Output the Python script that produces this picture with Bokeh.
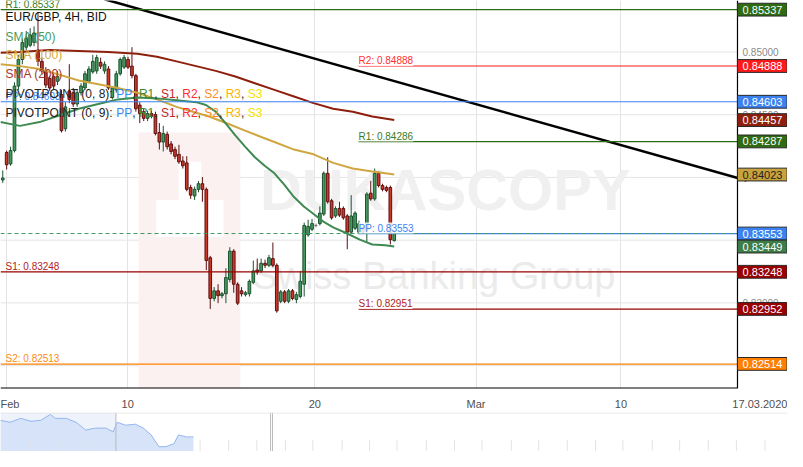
from bokeh.plotting import figure
from bokeh.models import Range1d, FixedTicker, Label, ColumnDataSource
from bokeh.layouts import column
from bokeh.embed import file_html
from bokeh.resources import INLINE
from bokeh.core.properties import value

# ---------------- data ----------------
opens = [0.83980, 0.84199, 0.84108, 0.84214, 0.84728, 0.84940, 0.85038, 0.85053, 0.85076, 0.85015,
         0.84925, 0.84849, 0.84789, 0.84804, 0.84766, 0.84660, 0.84388, 0.84690, 0.84675, 0.84585,
         0.84675, 0.84713, 0.84766, 0.84841, 0.84849, 0.84917, 0.84849, 0.84864, 0.84637, 0.84698,
         0.84826, 0.84879, 0.84940, 0.84887, 0.84811, 0.84577, 0.84524, 0.84471, 0.84509, 0.84501,
         0.84358, 0.84282, 0.84343, 0.84267, 0.84222, 0.84184, 0.84131, 0.84116, 0.83920, 0.83852,
         0.83905, 0.83950, 0.83905, 0.83360, 0.83036, 0.83096, 0.83058, 0.83073, 0.83187, 0.83413,
         0.83149, 0.83096, 0.83066, 0.83073, 0.83164, 0.83262, 0.83255, 0.83315, 0.83300, 0.83353,
         0.83300, 0.83013, 0.83088, 0.83013, 0.83096, 0.83028, 0.83051, 0.83149, 0.83542, 0.83587,
         0.83617, 0.83632, 0.83708, 0.84033, 0.83814, 0.83693, 0.83753, 0.83753, 0.83693, 0.83564,
         0.83595, 0.83564, 0.83602, 0.83580, 0.83874, 0.83829, 0.84033, 0.83935, 0.83920, 0.83920,
         0.83496]
closes = [0.83995, 0.84101, 0.84214, 0.84728, 0.84940, 0.85076, 0.85106, 0.85136, 0.85151, 0.84925,
          0.84849, 0.84736, 0.84713, 0.84728, 0.84804, 0.84373, 0.84562, 0.84622, 0.84585, 0.84675,
          0.84728, 0.84826, 0.84864, 0.84925, 0.84955, 0.84887, 0.84902, 0.84713, 0.84713, 0.84826,
          0.84940, 0.84955, 0.84879, 0.84811, 0.84547, 0.84509, 0.84471, 0.84509, 0.84494, 0.84350,
          0.84282, 0.84350, 0.84245, 0.84207, 0.84169, 0.84124, 0.84093, 0.83905, 0.83859, 0.83905,
          0.83950, 0.83905, 0.83338, 0.83036, 0.83096, 0.83058, 0.83073, 0.83202, 0.83413, 0.83149,
          0.82998, 0.83073, 0.83081, 0.83172, 0.83255, 0.83247, 0.83315, 0.83300, 0.83360, 0.83300,
          0.82937, 0.83088, 0.83013, 0.83096, 0.83036, 0.83066, 0.83172, 0.83617, 0.83610, 0.83632,
          0.83617, 0.83716, 0.84033, 0.83806, 0.83678, 0.83753, 0.83700, 0.83678, 0.83564, 0.83693,
          0.83716, 0.83632, 0.83564, 0.83867, 0.83829, 0.84033, 0.83935, 0.83905, 0.83897, 0.83504,
          0.83553]
highs = [0.84056, 0.84214, 0.84245, 0.84758, 0.84977, 0.85106, 0.85166, 0.85189, 0.85204, 0.85317,
         0.84955, 0.84879, 0.84811, 0.84826, 0.84849, 0.84698, 0.84600, 0.84902, 0.84713, 0.84698,
         0.84751, 0.84849, 0.84887, 0.84977, 0.84977, 0.84955, 0.84925, 0.84887, 0.84728, 0.84849,
         0.84955, 0.84977, 0.84962, 0.85038, 0.84826, 0.84600, 0.84547, 0.84532, 0.84532, 0.84524,
         0.84433, 0.84411, 0.84365, 0.84290, 0.84245, 0.84260, 0.84169, 0.84169, 0.83942, 0.83927,
         0.83972, 0.84003, 0.83920, 0.83375, 0.83126, 0.83149, 0.83088, 0.83277, 0.83444, 0.83428,
         0.83164, 0.83126, 0.83096, 0.83187, 0.83338, 0.83353, 0.83353, 0.83345, 0.83383, 0.83481,
         0.83315, 0.83103, 0.83103, 0.83111, 0.83111, 0.83088, 0.83255, 0.83640, 0.83663, 0.83670,
         0.83632, 0.83769, 0.84048, 0.84161, 0.83829, 0.83769, 0.83806, 0.83769, 0.83708, 0.83859,
         0.83731, 0.83655, 0.83617, 0.83882, 0.83972, 0.84071, 0.84048, 0.83950, 0.83935, 0.83935,
         0.83580]
lows = [0.83957, 0.84063, 0.84093, 0.84199, 0.84698, 0.84902, 0.85015, 0.85038, 0.85045, 0.84887,
        0.84826, 0.84713, 0.84690, 0.84698, 0.84736, 0.84358, 0.84365, 0.84592, 0.84562, 0.84562,
        0.84653, 0.84698, 0.84751, 0.84826, 0.84826, 0.84864, 0.84826, 0.84698, 0.84622, 0.84675,
        0.84811, 0.84864, 0.84864, 0.84789, 0.84524, 0.84433, 0.84449, 0.84449, 0.84471, 0.84335,
        0.84222, 0.84207, 0.84222, 0.84184, 0.84146, 0.84108, 0.84071, 0.83889, 0.83829, 0.83821,
        0.83882, 0.83806, 0.83262, 0.82952, 0.83013, 0.82998, 0.83036, 0.82998, 0.83164, 0.83081,
        0.82983, 0.83051, 0.83051, 0.83051, 0.83149, 0.83224, 0.83240, 0.83277, 0.83285, 0.83285,
        0.82922, 0.82998, 0.82998, 0.82998, 0.83021, 0.82998, 0.83036, 0.83051, 0.83527, 0.83572,
        0.83602, 0.83617, 0.83693, 0.83791, 0.83663, 0.83678, 0.83685, 0.83663, 0.83428, 0.83549,
        0.83580, 0.83549, 0.83549, 0.83481, 0.83814, 0.83814, 0.83920, 0.83889, 0.83882, 0.83466,
        0.83489]
bars = list(range(len(opens)))

sma50_x = [-0.6, 4.4, 9.4, 14.4, 19.4, 24.4, 29.4, 34.4, 39.4, 44.4, 49.4, 51.9, 54.4, 56.9, 59.4,
           61.9, 64.4, 66.9, 69.4, 71.9, 74.4, 76.9, 79.4, 81.9, 84.4, 87.7, 91.2, 94.4, 97.7, 100.0]
sma50_y = [0.84441, 0.84411, 0.84441, 0.84494, 0.84547, 0.84585, 0.84622, 0.84637, 0.84630, 0.84615,
           0.84600, 0.84577, 0.84524, 0.84433, 0.84335, 0.84245, 0.84161, 0.84093, 0.84033, 0.83942,
           0.83844, 0.83769, 0.83708, 0.83648, 0.83602, 0.83557, 0.83504, 0.83466, 0.83459, 0.83449]
sma100_x = [-0.6, 4.4, 9.4, 14.4, 19.4, 24.4, 29.4, 34.4, 39.4, 44.4, 49.4, 52.7, 57.7, 61.9, 66.2,
            69.4, 74.4, 79.4, 84.4, 89.4, 94.4, 100.0]
sma100_y = [0.84902, 0.84887, 0.84864, 0.84819, 0.84773, 0.84743, 0.84713, 0.84675, 0.84622, 0.84562,
            0.84516, 0.84486, 0.84426, 0.84373, 0.84320, 0.84282, 0.84222, 0.84184, 0.84116, 0.84071,
            0.84048, 0.84023]
sma200_x = [-0.6, 4.4, 11.9, 19.4, 26.9, 34.4, 39.4, 44.4, 49.4, 54.4, 59.4, 64.4, 69.4, 74.4, 79.4,
            84.4, 89.4, 94.4, 100.0]
sma200_y = [0.84993, 0.85000, 0.85015, 0.85008, 0.85000, 0.84985, 0.84962, 0.84925, 0.84887, 0.84849,
            0.84804, 0.84751, 0.84698, 0.84645, 0.84592, 0.84547, 0.84524, 0.84486, 0.84457]

trend_x = [26.0, 190.0]
trend_y = [0.85420, 0.83975]

pivot_names = ["R1", "R2", "PP", "R1", "PP", "S1", "S1", "S2"]
pivot_levels = [0.85337, 0.84888, 0.84603, 0.84286, 0.83553, 0.83248, 0.82951, 0.82513]
pivot_set = [0, 1, 0, 1, 1, 0, 1, 0]          # 0 -> PIVOTPOINT (0, 8), 1 -> (0, 9)
second_set_start = 90.9
last_price = 0.83553

box_values = [0.85337, 0.84888, 0.84603, 0.84457, 0.84287, 0.84023, 0.83553, 0.83449, 0.83248, 0.82952, 0.82514]
y_ticks = [0.825, 0.830, 0.835, 0.840, 0.845, 0.850]
x_tick_pos = [0.9, 31.9, 79.7, 120.9, 157.9]
x_tick_labels = ["Feb", "10", "20", "Mar", "10"]
date_tick_pos = 193.4
date_label = "17.03.2020"

nav_x = [-0.6, 1.9, 4.6, 7.2, 9.7, 12.2, 13.4, 16.2, 18.7, 21.2, 23.7, 26.4, 28.2, 29.2, 31.4, 33.9,
         35.9, 37.9, 39.9, 41.7, 43.7, 44.9, 46.9, 48.2, 48.7]
nav_y = [32, 30, 34, 31, 32, 38, 34, 34, 30, 22, 24, 24, 20, 30, 27, 28, 24, 17, 5, 5, 8, 17, 15, 15, 15]
nav_ticks = [7.2, 14.4, 21.7, 50.4, 57.7, 64.9, 72.2, 79.2, 86.7, 93.7, 100.7, 108.2, 115.4, 122.4,
             129.9, 136.9, 144.2, 151.4, 158.4, 165.9, 172.9, 180.2, 187.4, 194.7]
nav_window = [28.9, 68.4]

# ---------------- styles ----------------
FONT = "Liberation Sans"
C_UP, C_UP_LINE = "#479a5f", "#1d5230"
C_DN, C_DN_LINE = "#c9392a", "#5e0f0f"
C_SMA50, C_SMA100, C_SMA200 = "#3f8a52", "#cfa640", "#8e1f0c"
C_R1, C_R2, C_PP, C_S1, C_S2 = "#2e6b12", "#ff1a1a", "#3b82f0", "#990000", "#ff8000"
pivot_color = {"R1": C_R1, "R2": C_R2, "PP": C_PP, "S1": C_S1, "S2": C_S2}
label_color = {"R1": "#3c7a24", "R2": "#ff3030", "PP": "#3b82f0", "S1": "#b02424", "S2": "#ff8a10"}
box_fill = [C_R1, C_R2, C_PP, C_SMA200, C_R1, "#c9a23c", C_PP, "#3d7d47", C_S1, C_S1, C_S2]
box_text = ["white"] * 5 + ["#222222"] + ["white"] * 5

X0, X1, XR = -0.575, 187.675, 200.45     # chart area ends at X1, price scale up to XR
Y0, Y1 = 0.82318, 0.85410
BOX_H = 0.00102

p = figure(width=787, height=412, output_backend="svg", toolbar_location=None,
           x_range=Range1d(X0, XR), y_range=Range1d(Y0, Y1), y_axis_location=None,
           min_border_left=0, min_border_top=0, min_border_right=0, min_border_bottom=19)
p.outline_line_color = None
p.background_fill_color = "white"

p.xaxis.ticker = FixedTicker(ticks=x_tick_pos + [date_tick_pos])
overrides = {t: l for t, l in zip(x_tick_pos, x_tick_labels)}
overrides[date_tick_pos] = date_label
p.xaxis.major_label_overrides = overrides
p.xaxis.axis_line_color = None
p.xaxis.major_tick_line_color = None
p.xaxis.minor_tick_line_color = None
p.xaxis.major_label_text_color = "#505050"
p.xaxis.major_label_text_font = FONT
p.xaxis.major_label_text_font_size = "11px"
p.xaxis.major_label_standoff = 3
p.xgrid.ticker = FixedTicker(ticks=x_tick_pos)
p.xgrid.grid_line_color = "#e4e4e4"
p.ygrid.grid_line_color = None
p.segment(x0=[X0] * len(y_ticks), x1=[X1] * len(y_ticks), y0=y_ticks, y1=y_ticks,
          line_color="#e4e4e4", line_width=1)

# watermark
p.quad(left=[34.7], right=[60.7], top=[0.84358], bottom=[0.8220], fill_color="#fcf1f1", line_color=None)
p.quad(left=[44.9, 39.2], right=[50.7, 56.4], top=[0.84124, 0.83821], bottom=[0.83806, 0.83527],
       fill_color="white", line_color=None)
p.text(x=[65.7], y=[0.83904], text=["DUKASCOPY"], text_font=value(FONT),
       text_font_style="bold", text_font_size="58px", text_color="#f0f0f0", text_baseline="middle")
p.text(x=[63.7], y=[0.83217], text=["Swiss Banking Group"], text_font=value(FONT),
       text_font_size="38px", text_color="#ebebeb", text_baseline="middle")

# candles
fills, lines = [], []
for o, c in zip(opens, closes):
    if c > o:
        fills.append(C_UP); lines.append(C_UP_LINE)
    elif c < o:
        fills.append(C_DN); lines.append(C_DN_LINE)
    else:
        fills.append("#999999"); lines.append("#777777")
src = ColumnDataSource(dict(x=bars, h=highs, l=lows,
                            top=[max(o, c) for o, c in zip(opens, closes)],
                            bot=[min(o, c) for o, c in zip(opens, closes)],
                            fill=fills, line=lines))
p.segment(x0="x", x1="x", y0="h", y1="l", line_color="line", line_width=1, source=src)
p.vbar(x="x", width=0.68, top="top", bottom="bot", fill_color="fill", line_color="line",
       line_width=1, source=src)

# moving averages
p.line(sma100_x, sma100_y, line_color=C_SMA100, line_width=2)
p.line(sma200_x, sma200_y, line_color=C_SMA200, line_width=2)
p.line(sma50_x, sma50_y, line_color=C_SMA50, line_width=2)

# trend line
p.line(trend_x, trend_y, line_color="black", line_width=2.5)

# pivot lines
starts = [X0 if s == 0 else second_set_start for s in pivot_set]
p.segment(x0=starts, x1=[X1] * len(pivot_levels), y0=pivot_levels, y1=pivot_levels,
          line_color=[pivot_color[n] for n in pivot_names], line_width=1.2)
p.segment(x0=[X0], x1=[X1], y0=[last_price], y1=[last_price], line_color="#3f9a66",
          line_width=1, line_dash="4 3")
for n, lv, s, x in zip(pivot_names, pivot_levels, pivot_set, starts):
    p.add_layout(Label(x=x, y=lv, x_offset=5 if s == 0 else 0, text=f"{n}: {lv:.5f}",
                       text_font=FONT, text_font_size="10px", text_color=label_color[n],
                       text_baseline="bottom",
                       background_fill_color="white" if s == 1 else None,
                       background_fill_alpha=0.85))

# frame border (price scale line and bottom line)
p.segment(x0=[X1, X0], x1=[X1, X1], y0=[Y0, Y0], y1=[Y1, Y0], line_color="black", line_width=[1.2, 2])

# legend texts (top-left)
legend_rows = [("EUR/GBP, 4H, BID", "#111111", 0.85280),
               ("SMA (50)", "#4a9a5c", 0.85121),
               ("SMA (100)", "#d4aa40", 0.84977),
               ("SMA (200)", "#a8382a", 0.84826)]
for t, col, yv in legend_rows:
    p.add_layout(Label(x=X0, y=yv, x_offset=5, text=t, text_font=FONT, text_font_size="12px",
                       text_color=col, text_baseline="middle"))
pivot_words = [("PIVOTPOINT (0, {}): ", "#222222", 5), ("PP", "#3b86f0", 115.7), (", ", "#222222", 131.7),
               ("R1", "#3f8a2e", 138.4), (", ", "#222222", 153.7), ("S1", "#c02a2a", 160.4),
               (", ", "#222222", 175.1), ("R2", "#ff2d2d", 181.8), (", ", "#222222", 197.1),
               ("S2", "#ff8a1e", 203.8), (", ", "#222222", 218.5), ("R3", "#ffb400", 225.2),
               (", ", "#222222", 240.5), ("S3", "#f2e200", 247.2)]
for num, yv in [(8, 0.84668), (9, 0.84517)]:
    for t, col, off in pivot_words:
        p.add_layout(Label(x=X0, y=yv, x_offset=off, text=t.format(num), text_font=FONT,
                           text_font_size="12px", text_color=col, text_baseline="middle"))

# price scale: tick labels and value boxes
p.text(x=[X1] * len(y_ticks), y=y_ticks, x_offset=5, text=[f"{t:.5f}" for t in y_ticks],
       text_font=value(FONT), text_font_size="10px", text_color="#8a8a8a", text_baseline="middle")
p.quad(left=[X1] * len(box_values), right=[XR - 0.1] * len(box_values),
       top=[v + BOX_H / 2 for v in box_values], bottom=[v - BOX_H / 2 for v in box_values],
       fill_color=box_fill, line_color="#2a2a2a", line_width=1)
p.text(x=[(X1 + XR) / 2] * len(box_values), y=box_values, text=[f"{v:.5f}" for v in box_values],
       text_font=value(FONT), text_font_size="11px", text_color=box_text,
       text_baseline="middle", text_align="center")

# ---------------- navigator ----------------
nav = figure(width=787, height=39, output_backend="svg", toolbar_location=None,
             x_range=Range1d(X0, XR), y_range=Range1d(0, 40), min_border=0,
             x_axis_location=None, y_axis_location=None)
nav.grid.grid_line_color = None
nav.outline_line_color = None
nav.quad(left=[X0], right=[nav_window[0]], bottom=[0], top=[40], fill_color="#eef2fa", line_color=None)
nav.varea(x=nav_x, y1=[0] * len(nav_x), y2=nav_y, fill_color="#d6e3f8")
nav.line(nav_x, nav_y, line_color="#94b6ee", line_width=1)
nav.segment(x0=nav_ticks, x1=nav_ticks, y0=[0] * len(nav_ticks), y1=[12] * len(nav_ticks),
            line_color="#e4e4e4", line_width=1)
nav.segment(x0=[nav_window[0], nav_window[1], nav_window[1] + 0.5],
            x1=[nav_window[0], nav_window[1], nav_window[1] + 0.5],
            y0=[0, 0, 0], y1=[40, 40, 40], line_color="#bbbbbb", line_width=1)
nav.segment(x0=[X0], x1=[XR], y0=[39.5], y1=[39.5], line_color="#e2e2e2", line_width=1)

layout = column(p, nav)
open("out.html", "w").write(file_html(layout, INLINE))
